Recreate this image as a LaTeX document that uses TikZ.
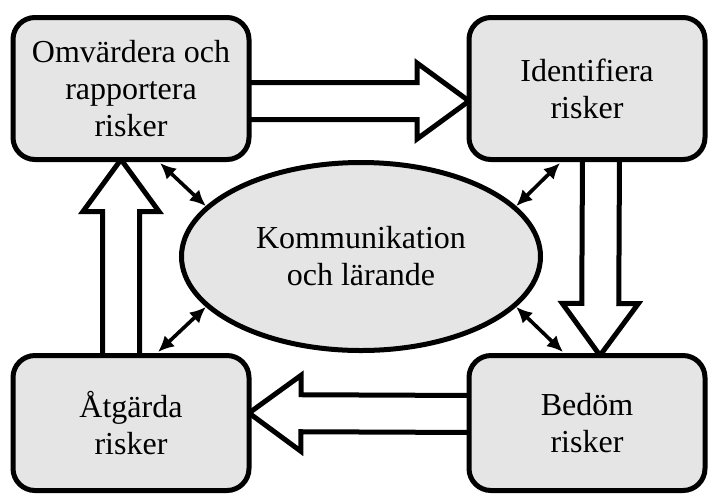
\documentclass[tikz,border=0pt]{standalone}
\usepackage{fontspec}
\setmainfont{Liberation Serif}
\usetikzlibrary{calc,positioning,shapes.geometric,arrows.meta,backgrounds}
\definecolor{boxfill}{gray}{0.9}

% hollow block arrow from #1 to tip #2
\newcommand{\bigarrow}[2]{%
  \path ($(#2)!26pt!(#1)$) coordinate (hb);
  \draw[bigarr] ($(#1)!9.25pt!90:(#2)$) -- ($(hb)!9.25pt!90:(#2)$) -- ($(hb)!19pt!90:(#2)$) -- (#2)
    -- ($(hb)!19pt!-90:(#2)$) -- ($(hb)!9.25pt!-90:(#2)$) -- ($(#1)!9.25pt!-90:(#2)$) -- cycle;}

\begin{document}
\begin{tikzpicture}[x=0.5pt, y=-0.5pt,
  box/.style={draw, line width=2.5pt, rounded corners=11pt, fill=boxfill, minimum width=118pt,
    minimum height=71pt, align=center, font=\fontsize{16}{18.5}\selectfont},
  hub/.style={ellipse, draw, line width=2.5pt, fill=boxfill, minimum width=179.5pt,
    minimum height=94pt, inner sep=0pt, align=center, font=\fontsize{16}{18.5}\selectfont},
  bigarr/.style={draw, line width=2.5pt, fill=white, line join=miter},
  dbl/.style={line width=1.8pt, {Latex[length=8pt,width=7.5pt]}-{Latex[length=8pt,width=7.5pt]}}]
\useasboundingbox (0,0) rectangle (708,495);
% boxes
\node[box] (tl) at (131,88.5) {Omvärdera och\\rapportera\\risker};
\node[box] (tr) at (587,88.5) {Identifiera\\risker};
\node[box, minimum height=67.5pt] (bl) at (131,423) {Åtgärda\\risker};
\node[box, minimum height=67.5pt] (br) at (587,423) {Bedöm\\risker};
\node[hub] (el) at (361,256.5) {Kommunikation\\och lärande};
% big arrows
\coordinate (a1) at ($(tl.east)+(-8,12.5)$);
\coordinate (b1) at ($(tr.west)+(2.5,12.5)$);
\coordinate (a2) at ($(tr.south)+(14,-8)$);
\coordinate (b2) at ($(br.north)+(13,2.5)$);
\coordinate (a3) at ($(br.west)+(8,-9)$);
\coordinate (b3) at ($(bl.east)+(-2.5,-10)$);
\coordinate (a4) at ($(bl.north)+(-10,8)$);
\coordinate (b4) at ($(tl.south)+(-10,-2.5)$);
\begin{scope}[on background layer]
\bigarrow{a1}{b1}
\bigarrow{a2}{b2}
\bigarrow{a3}{b3}
\bigarrow{a4}{b4}
\end{scope}
% small arrows
\draw[dbl] ($(tl.south)+(29,1)$) -- (el.162);
\draw[dbl] ($(tr.south)+(-27,1)$) -- (el.18);
\draw[dbl] ($(bl.north)+(27,-1)$) -- (el.198);
\draw[dbl] ($(br.north)+(-24,-1)$) -- (el.-18);
\end{tikzpicture}
\end{document}
